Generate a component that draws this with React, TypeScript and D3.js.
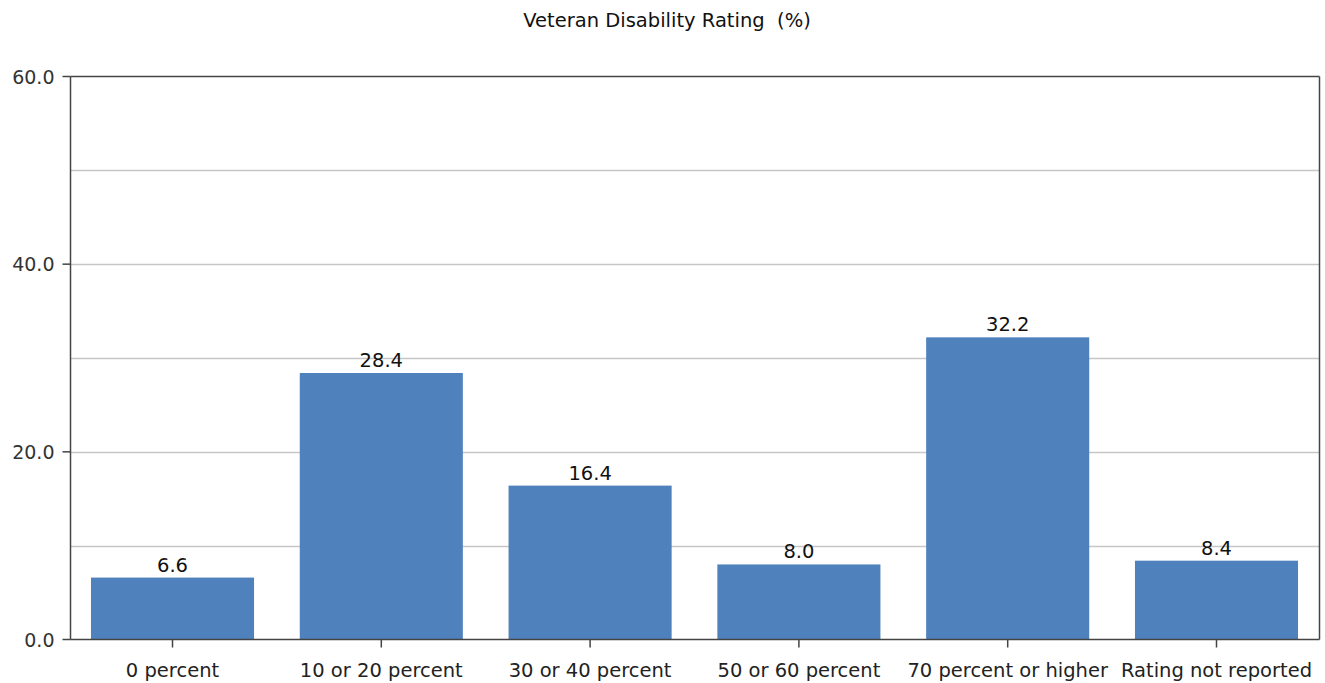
import React from "react";
import * as d3 from "d3";

const categories = ["0 percent", "10 or 20 percent", "30 or 40 percent", "50 or 60 percent", "70 percent or higher", "Rating not reported"];
const values = [6.6, 28.4, 16.4, 8.0, 32.2, 8.4];
const yTicks = [0, 20, 40, 60];
const gridValues = [10, 20, 30, 40, 50];
const title = "Veteran Disability Rating  (%)";

const W = 1325;
const H = 683;
const left = 70.5;
const right = 1319.5;
const top = 76.5;
const bottom = 639.5;
const FONT = "'DejaVu Sans', sans-serif";

export default function App() {
  const x = d3.scaleBand<string>().domain(categories).range([68, 1321]).paddingInner(0.219).paddingOuter(0.11);
  const y = d3.scaleLinear().domain([0, 60]).range([bottom, top]);
  return (
    <div style={{ position: "absolute", left: 0, top: 0 }}>
      <svg width={W} height={H} style={{ display: "block", background: "#fff" }}>
        <text x={667} y={27} textAnchor="middle" fontFamily={FONT} fontSize={19.5} fill="#111" style={{ whiteSpace: "pre" }}>{title}</text>
        {gridValues.map((g) => (
          <line key={g} x1={left} x2={right} y1={Math.round(y(g)) + 0.5} y2={Math.round(y(g)) + 0.5} stroke="#c6c6c6" strokeWidth={1.5} />
        ))}
        {values.map((v, i) => (
          <rect key={categories[i]} x={x(categories[i])} y={y(v)} width={x.bandwidth()} height={bottom - y(v)} fill="#4F81BD" />
        ))}
        {values.map((v, i) => (
          <text key={"l" + i} x={(x(categories[i]) as number) + x.bandwidth() / 2} y={y(v) - 6} textAnchor="middle" fontFamily={FONT} fontSize={19.5} fill="#111">{d3.format(".1f")(v)}</text>
        ))}
        <line x1={left} x2={right} y1={top} y2={top} stroke="#444" strokeWidth={1.5} />
        <line x1={right} x2={right} y1={top} y2={bottom} stroke="#444" strokeWidth={1.5} />
        <line x1={left} x2={left} y1={top} y2={bottom} stroke="#444" strokeWidth={1.5} />
        <line x1={left} x2={right} y1={bottom} y2={bottom} stroke="#444" strokeWidth={1.5} />
        {yTicks.map((t) => (
          <g key={t}>
            <line x1={left - 8} x2={left} y1={y(t)} y2={y(t)} stroke="#444" strokeWidth={1.5} />
            <text x={left - 16} y={y(t) + 7} textAnchor="end" fontFamily={FONT} fontSize={19} fill="#333">{d3.format(".1f")(t)}</text>
          </g>
        ))}
        {categories.map((c) => (
          <g key={c}>
            <line x1={(x(c) as number) + x.bandwidth() / 2} x2={(x(c) as number) + x.bandwidth() / 2} y1={bottom} y2={bottom + 8} stroke="#444" strokeWidth={1.5} />
            <text x={(x(c) as number) + x.bandwidth() / 2} y={bottom + 37} textAnchor="middle" fontFamily={FONT} fontSize={19.5} fill="#222">{c}</text>
          </g>
        ))}
      </svg>
    </div>
  );
}
